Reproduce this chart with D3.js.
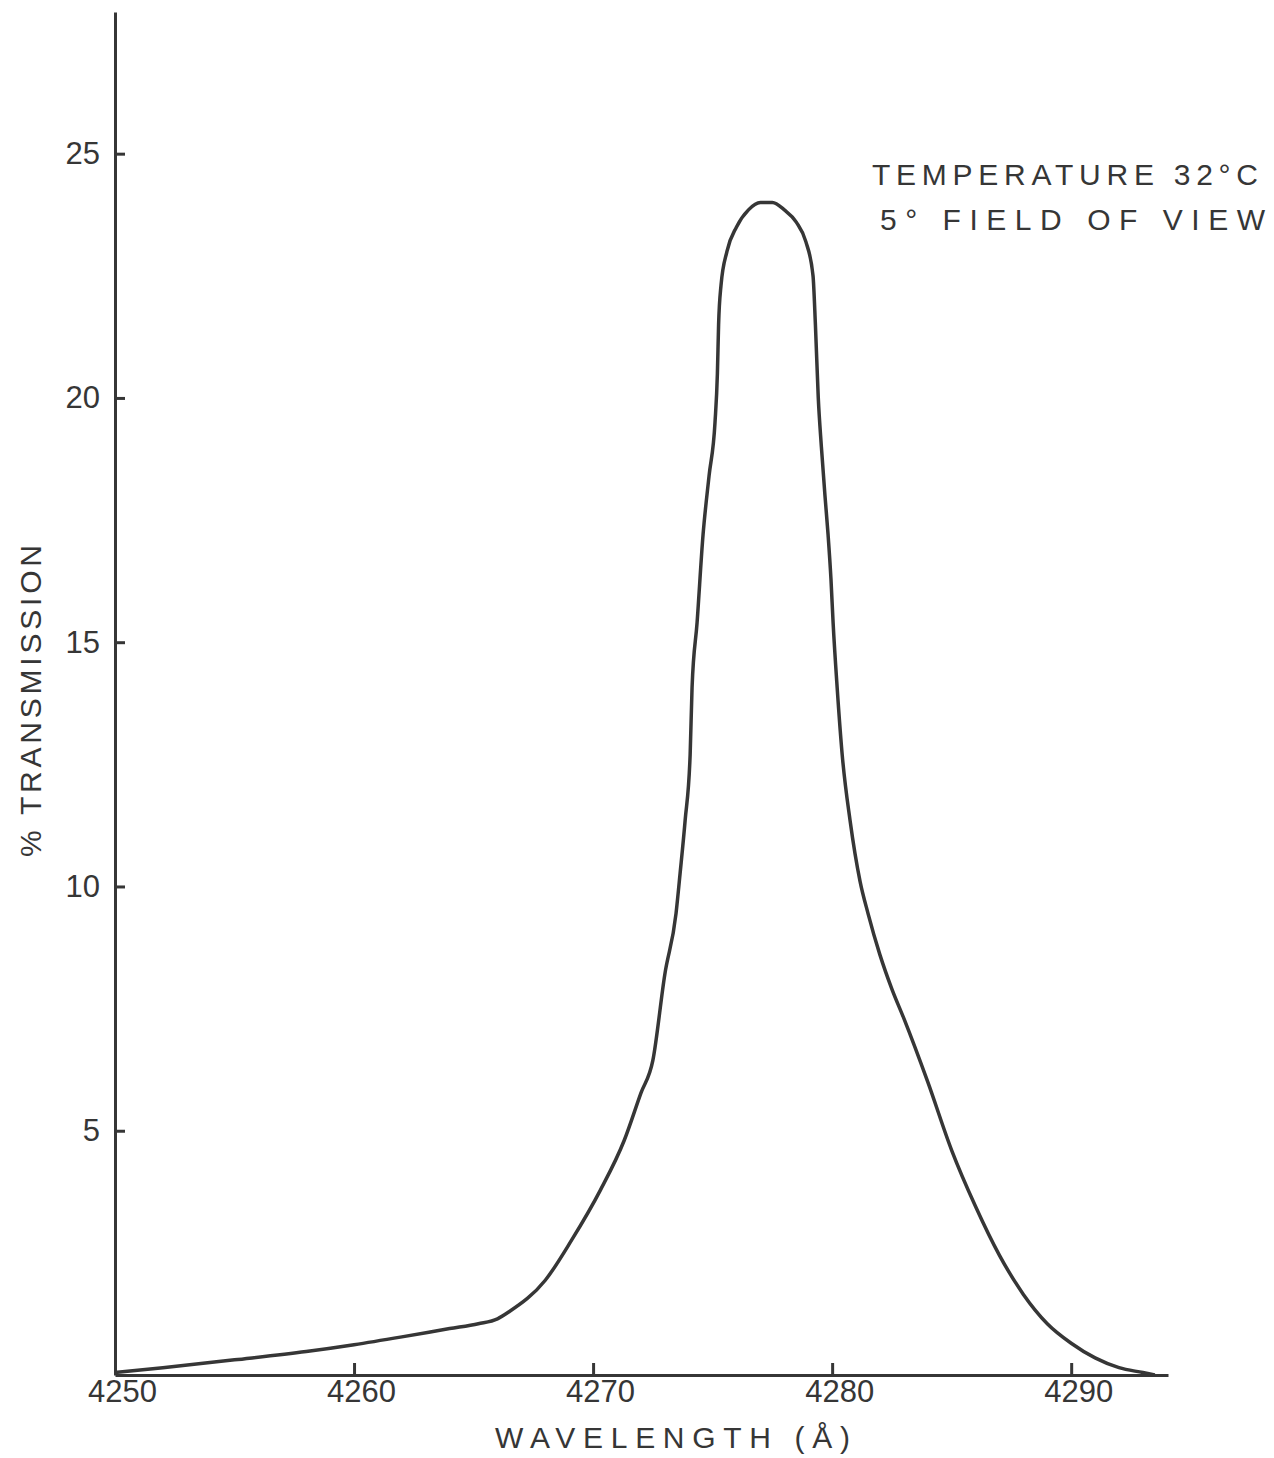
<!DOCTYPE html>
<meta charset="utf-8">
<html>
<head>
  <script src="https://d3js.org/d3.v7.min.js" charset="utf-8"></script>
</head>
<style>
body {
    margin: 0;
    background-color: white;
}
text {
    font-family: "Liberation Sans", Arial, sans-serif;
    fill: #363636;
}
.axis path, .axis line {
    stroke: #363636;
    stroke-width: 3;
}
.axis text {
    font-size: 31px;
}
</style>
<body>
<div id="container"></div>
<script type="text/javascript">

// wavelength (Å) and % transmission
var wavelength = [4250, 4252, 4255, 4258, 4260, 4262, 4264, 4265.2, 4266, 4266.5,
                  4268, 4269.1, 4270.3, 4271.3, 4272, 4272.5, 4273, 4273.47, 4273.64, 4273.85,
                  4274.06, 4274.14, 4274.35, 4274.6, 4274.85, 4275.1, 4275.2, 4275.25, 4275.35,
                  4275.6, 4276, 4276.5, 4277, 4277.5, 4278, 4278.5, 4278.9, 4279.2, 4279.3,
                  4279.42, 4279.55, 4279.7, 4279.83, 4279.95, 4280.04, 4280.21, 4280.42, 4280.75,
                  4281.17, 4281.5, 4282, 4282.5, 4283, 4284, 4285, 4286, 4287,
                  4288, 4289, 4290, 4291, 4292, 4293, 4293.5]
var transmission = [0.05, 0.15, 0.31, 0.48, 0.62, 0.78, 0.95, 1.05, 1.15, 1.3,
                    1.94, 2.76, 3.78, 4.8, 5.77, 6.44, 8.2, 9.45, 10.27, 11.35,
                    12.7, 14.07, 15.4, 17.2, 18.4, 19.5, 20.5, 21.5, 22.3,
                    23.0, 23.5, 23.85, 24.0, 24.0, 23.85, 23.6, 23.2, 22.5, 21.5,
                    20.0, 19.0, 18.0, 17.2, 16.3, 15.4, 14.07, 12.7, 11.35,
                    10.1, 9.45, 8.6, 7.9, 7.3, 6.0, 4.6, 3.45, 2.45,
                    1.65, 1.05, 0.65, 0.35, 0.15, 0.05, 0]

var xTicks = [4250, 4260, 4270, 4280, 4290]
var yTicks = [5, 10, 15, 20, 25]

var width = 1274
var height = 1458
var margin = {left: 115, right: 106, top: 12, bottom: 83}

var svg = d3.select("#container")
            .append("svg")
            .attr("width", width)
            .attr("height", height)

var x = d3.scaleLinear().domain([4250, 4294.05]).range([margin.left, width - margin.right])
var y = d3.scaleLinear().domain([0, 27.9]).range([height - margin.bottom, margin.top])

var xAxis = d3.axisBottom(x)
              .tickValues(xTicks)
              .tickFormat(d3.format("d"))
              .tickSizeInner(-12)
              .tickSizeOuter(0)
              .tickPadding(5)

var yAxis = d3.axisLeft(y)
              .tickValues(yTicks)
              .tickSizeInner(-10)
              .tickSizeOuter(0)
              .tickPadding(15)

var gx = svg.append("g")
   .attr("class", "axis")
   .attr("transform", "translate(0," + y(0) + ")")
   .call(xAxis)
gx.selectAll("text").attr("dx", 7)

svg.append("g")
   .attr("class", "axis")
   .attr("transform", "translate(" + x(4250) + ",0)")
   .call(yAxis)

svg.selectAll(".axis text").attr("fill", "#363636")

// the filter curve
var line = d3.line()
             .x((d) => x(d[0]))
             .y((d) => y(d[1]))
             .curve(d3.curveMonotoneX)

svg.append("path")
   .datum(d3.zip(wavelength, transmission))
   .attr("d", line)
   .attr("fill", "none")
   .attr("stroke", "#363636")
   .attr("stroke-width", 3.5)
   .attr("stroke-linejoin", "round")

// axis titles
svg.append("text")
   .attr("x", 495)
   .attr("y", 1448)
   .attr("font-size", 30)
   .attr("textLength", 355)
   .attr("lengthAdjust", "spacing")
   .text("WAVELENGTH (Å)")

svg.append("text")
   .attr("transform", "translate(41,857) rotate(-90)")
   .attr("font-size", 30)
   .attr("textLength", 312)
   .attr("lengthAdjust", "spacing")
   .text("% TRANSMISSION")

// conditions note
svg.append("text")
   .attr("x", 872)
   .attr("y", 185)
   .attr("font-size", 30)
   .attr("textLength", 386)
   .attr("lengthAdjust", "spacing")
   .text("TEMPERATURE  32°C")

svg.append("text")
   .attr("x", 880)
   .attr("y", 230)
   .attr("font-size", 30)
   .attr("textLength", 385)
   .attr("lengthAdjust", "spacing")
   .text("5° FIELD  OF  VIEW")

</script>
</body>
</html>
